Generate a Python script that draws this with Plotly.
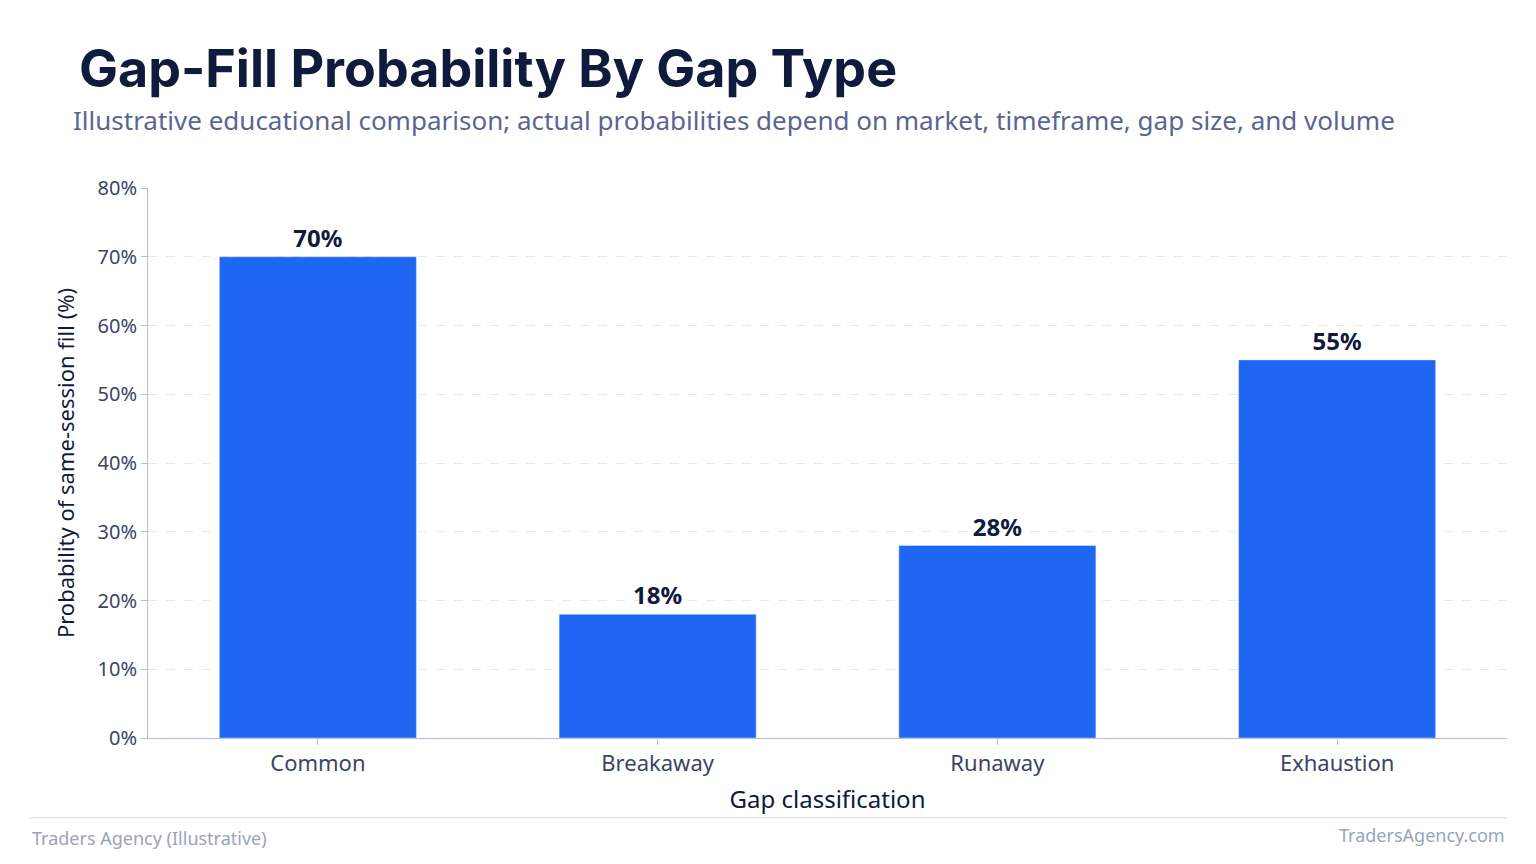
import plotly.graph_objects as go

categories = ["Common", "Breakaway", "Runaway", "Exhaustion"]
values = [70, 18, 28, 55]
labels = ["70%", "18%", "28%", "55%"]
tick_vals = [0, 10, 20, 30, 40, 50, 60, 70, 80]
tick_text = ["0%", "10%", "20%", "30%", "40%", "50%", "60%", "70%", "80%"]

fig = go.Figure(go.Bar(
    x=categories, y=values, text=labels, textposition="outside",
    marker_color="#1f66f2", width=0.58,
    textfont=dict(family="Noto Sans", size=24, color="#0f1a3c", weight="bold"),
    cliponaxis=False,
))
fig.update_layout(
    width=1536, height=864, paper_bgcolor="white", plot_bgcolor="white",
    margin=dict(l=140, r=37, t=180, b=134),
    font=dict(family="Noto Sans", color="#3a4566"),
    showlegend=False,
)
fig.add_annotation(text="<b>Gap-Fill Probability By Gap Type</b>", xref="paper", yref="paper",
                   x=-0.052, y=1.218, xanchor="left", yanchor="middle", showarrow=False,
                   font=dict(family="Inter", size=52, color="#0f1a3c"))
fig.add_annotation(text="Illustrative educational comparison; actual probabilities depend on market, timeframe, gap size, and volume",
                   xref="paper", yref="paper", x=-0.057, y=1.124, xanchor="left", yanchor="middle",
                   showarrow=False, font=dict(family="Noto Sans", size=26, color="#5a6690"))
fig.add_annotation(text="Traders Agency (Illustrative)", xref="paper", yref="paper", x=-0.087, y=-0.182,
                   xanchor="left", yanchor="middle", showarrow=False,
                   font=dict(family="Noto Sans", size=18, color="#9aa3bd"))
fig.add_annotation(text="TradersAgency.com", xref="paper", yref="paper", x=1.0, y=-0.176,
                   xanchor="right", yanchor="middle", showarrow=False,
                   font=dict(family="Noto Sans", size=18, color="#9aa3bd"))
fig.add_shape(type="line", xref="paper", yref="paper", x0=-0.087, x1=1.0, y0=-0.145, y1=-0.145,
              line=dict(color="#d5d9e6", width=1))
fig.update_xaxes(title=dict(text="Gap classification", font=dict(size=24, color="#0f1a3c"), standoff=14),
                 tickfont=dict(size=22, color="#3a4566"), showline=True, linecolor="#b8bed2",
                 ticks="outside", tickcolor="#b8bed2", ticklen=6)
fig.update_yaxes(range=[0, 80], tickvals=tick_vals, ticktext=tick_text,
                 title=dict(text="Probability of same-session fill (%)", font=dict(size=22, color="#0f1a3c"), standoff=16),
                 tickfont=dict(size=20, color="#3a4566"), showline=True, linecolor="#b8bed2",
                 ticks="outside", tickcolor="#b8bed2", ticklen=6,
                 gridcolor="#e6e9f0", griddash="dash", zeroline=False)
fig.write_html("out.html")
